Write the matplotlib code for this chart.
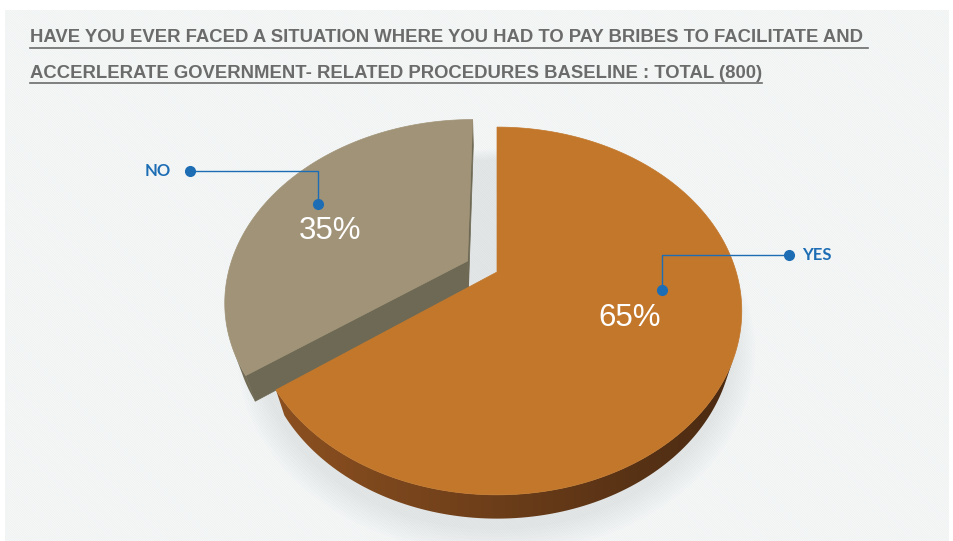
import numpy as np
import matplotlib
matplotlib.use('Agg')
import matplotlib.pyplot as plt
from matplotlib.patches import Polygon, Rectangle

# survey answers, total sample of 800
labels = ['YES', 'NO']
shares = [65, 35]
explode = [0.0, 0.14]
title_lines = [
    'HAVE YOU EVER FACED A SITUATION WHERE YOU HAD TO PAY BRIBES TO FACILITATE AND ',
    'ACCERLERATE GOVERNMENT- RELATED PROCEDURES BASELINE : TOTAL (800)',
]

top_colors = ['#c2772b', '#a09377']
cut_colors = ['#6a3b16', '#6e6954']
wall_colors = [('#8c5020', '#4a2a12'), ('#7a735d', '#6b6651')]
blue = '#1d6db5'

# camera for the tilted disc (pixel coordinates)
cx, cy = 497, 272
elev = np.radians(45.8)
se, ce = np.sin(elev), np.cos(elev)
D, fx, fy, T = 3.29, 787, 806, 0.16


def proj(u, v, h):
    z = D + v * ce - h * se
    return cx + fx * u / z, cy - fy * (v * se + h * ce) / z


fig = plt.figure(figsize=(9.54, 5.41), dpi=100)
ax = fig.add_axes([0, 0, 1, 1])
ax.set_xlim(0, 954)
ax.set_ylim(541, 0)
ax.axis('off')

plt.rcParams['hatch.linewidth'] = 0.4
ax.add_patch(Rectangle((5, 10), 944, 540, facecolor='#f6f8f8', edgecolor='#edf0f0',
                       hatch='\\' * 14, linewidth=0, zorder=0))

# wedge angles, clockwise from 12 o'clock
fracs = np.array(shares) / sum(shares)
starts = 90 - 360 * np.concatenate([[0], np.cumsum(fracs)[:-1]])
ends = starts - 360 * fracs

# soft shadow under the whole pie
th = np.linspace(0, 2 * np.pi, 200)
for k in range(8):
    r = 1.0 + 0.012 * k
    sx, sy = proj(r * np.cos(th) - 0.02, r * np.sin(th) - 0.03, -T)
    ax.add_patch(Polygon(np.c_[sx + 4, sy + 3], closed=True, facecolor='#9aa0a4',
                         edgecolor='none', alpha=0.025, zorder=1))

# draw back slice (NO) first, then YES over it
for i in [1, 0]:
    a0, a1 = np.radians(ends[i]), np.radians(starts[i])
    mid = 0.5 * (a0 + a1)
    ox, oy = explode[i] * np.cos(mid), explode[i] * np.sin(mid)
    t = np.linspace(a0, a1, 200)

    # outer wall where it faces the camera
    vis = -(1 + ox * np.cos(t) + oy * np.sin(t)) - D * ce * np.sin(t) > 0
    if vis.any():
        tw = t[vis]
        ux, vy = ox + np.cos(tw), oy + np.sin(tw)
        x0, y0 = proj(ux, vy, 0)
        x1, y1 = proj(ux, vy, -T)
        pts = np.r_[np.c_[x0, y0], np.c_[x1, y1][::-1]]
        wall = Polygon(pts, closed=True, facecolor='none', edgecolor='none', zorder=2)
        ax.add_patch(wall)
        grad = np.linspace(0, 1, 256)[None, :]
        cmap = matplotlib.colors.LinearSegmentedColormap.from_list('w', wall_colors[i])
        im = ax.imshow(grad, cmap=cmap, extent=[pts[:, 0].min(), pts[:, 0].max(),
                                                pts[:, 1].max(), pts[:, 1].min()],
                       aspect='auto', zorder=2, interpolation='bilinear')
        im.set_clip_path(wall)

    # radial cut faces that face the camera
    for ang, sgn in [(a0, -1), (a1, 1)]:
        nx, ny = np.cos(ang + sgn * np.pi / 2), np.sin(ang + sgn * np.pi / 2)
        if -(nx * ox + ny * oy) - D * ce * ny > 1e-3:
            ex, ey = ox + np.cos(ang), oy + np.sin(ang)
            quad = [proj(ox, oy, 0), proj(ex, ey, 0), proj(ex, ey, -T), proj(ox, oy, -T)]
            ax.add_patch(Polygon(quad, closed=True, facecolor=cut_colors[i],
                                 edgecolor=cut_colors[i], linewidth=0.5, zorder=2))

    # top face
    px, py = proj(ox + np.cos(t), oy + np.sin(t), 0)
    qx, qy = proj(ox, oy, 0)
    top = np.r_[[[qx, qy]], np.c_[px, py]]
    ax.add_patch(Polygon(top, closed=True, facecolor=top_colors[i],
                         edgecolor=top_colors[i], linewidth=0.5, zorder=3))

# percentage labels with leader lines
value_pos = {'YES': (630, 318), 'NO': (330, 231)}
anchor = {'YES': (662, 290), 'NO': (318, 204)}
name_pos = {'YES': (789, 255), 'NO': (190, 171)}
for lab, val in zip(labels, shares):
    vx, vy = value_pos[lab]
    ax.text(vx, vy, f'{val}%', color='white', fontsize=22.5, ha='center', va='center',
            family='Liberation Sans', zorder=5)
    (x0, y0), (x1, y1) = name_pos[lab], anchor[lab]
    ax.plot([x0, x1, x1], [y0, y0, y1], color=blue, lw=1.0, zorder=4)
    ax.plot([x0, x1], [y0, y1], 'o', color=blue, ms=7, zorder=4)
    if lab == 'NO':
        ax.text(x0 - 19, y0, lab, color=blue, fontsize=12, fontweight='bold',
                ha='right', va='center', family='Lato', zorder=5)
    else:
        ax.text(x0 + 13, y0, lab, color=blue, fontsize=12, fontweight='bold',
                ha='left', va='center', family='Lato', zorder=5)

# underlined title, sized so the first line spans the panel
title_color = '#6b6b6b'
texts = []
for k, line in enumerate(title_lines):
    texts.append(ax.text(30, 38 + 35 * k, line, color=title_color, fontsize=12,
                         fontweight='bold', family='Liberation Sans',
                         ha='left', va='center', zorder=5))
fig.canvas.draw()
w = texts[0].get_window_extent().width
for txt in texts:
    txt.set_fontsize(12 * 836 / w)
fig.canvas.draw()
inv = ax.transData.inverted()
for txt in texts:
    bb = txt.get_window_extent()
    (l, b), (r, tp) = inv.transform([[bb.x0, bb.y0], [bb.x1, bb.y1]])
    ax.plot([l, r], [b + 1, b + 1], color=title_color, lw=1.2, zorder=5)

fig.savefig('out.png', dpi=100)
